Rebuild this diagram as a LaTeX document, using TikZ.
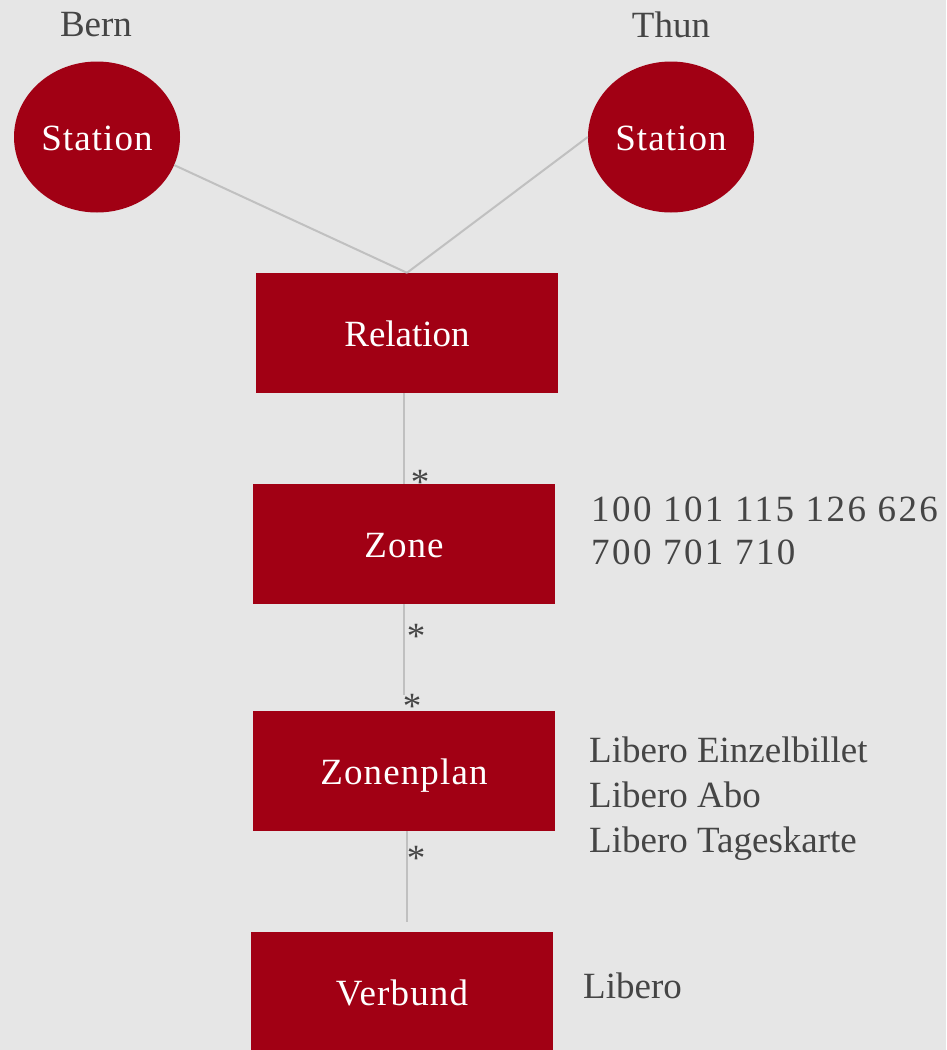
\documentclass[tikz,border=0pt]{standalone}
\usepackage{fontspec}
\setmainfont{Liberation Serif}
\newfontfamily\spacedfont[LetterSpace=6.5]{Liberation Serif}
\newfontfamily\widefont[LetterSpace=3]{Liberation Serif}
\usetikzlibrary{shapes.geometric}
\definecolor{bg}{HTML}{E6E6E6}
\definecolor{boxred}{HTML}{A10014}
\definecolor{txtgrey}{HTML}{454545}
\definecolor{linegrey}{HTML}{C0C0C0}
\begin{document}
\begin{tikzpicture}[x=1pt,y=-1pt,
  big/.style={font=\fontsize{37}{44}\selectfont},
  station/.style={ellipse,fill=boxred,minimum width=166pt,minimum height=151pt,inner sep=0pt,text=white,font=\fontsize{37}{44}\widefont,text height=27pt,text depth=0pt},
  entity/.style={rectangle,fill=boxred,minimum width=302pt,minimum height=120pt,inner sep=0pt,text=white,font=\fontsize{37}{44}\widefont,text height=27pt,text depth=0pt},
  lbl/.style={text=txtgrey,big,inner sep=0pt},
  info/.style={text=txtgrey,inner sep=0pt,anchor=west,align=left},
  conn/.style={draw=linegrey,line width=2pt},
  mult/.style={text=txtgrey,big,inner sep=0pt,anchor=base}
]
\fill[bg] (0,0) rectangle (946,1050);
\useasboundingbox (0,0) rectangle (946,1050);

\node[lbl] (bernlbl) at (96,25) {Bern};
\node[lbl] (thunlbl) at (671,25) {Thun};
\node[station] (bern) at (97,137) {Station};
\node[station] (thun) at (671,137) {Station};

\node[entity,font=\fontsize{37}{44}\selectfont] (rel) at (407,333) {Relation};
\node[entity] (zone) at (404,544) {Zone};
\node[entity] (zplan) at (404,771) {Zonenplan};
\node[entity] (verb) at (402,992) {Verbund};

\node[info,font=\fontsize{37}{43.5}\spacedfont] (zonelist) at (591,531) {100 101 115 126 626\\700 701 710};
\node[info,font=\fontsize{37}{45}\selectfont] (plans) at (589,799) {Libero Einzelbillet\\Libero Abo\\Libero Tageskarte};
\node[info,font=\fontsize{37}{44}\selectfont] (verbname) at (583,986) {Libero};

\coordinate (relbot) at (404,393);
\coordinate (zoneend) at (404,695);
\coordinate (zplantop) at (407,831);
\coordinate (verbend) at (407,922);

\draw[conn] (bern.-20) -- (rel.north);
\draw[conn] (thun.west) -- (rel.north);
\draw[conn] (relbot) -- (zone.north);
\draw[conn] (zone.south) -- (zoneend);
\draw[conn] (zplantop) -- (verbend);

\node[mult] (m1) at (420,494) {*};
\node[mult] (m2) at (416,648) {*};
\node[mult] (m3) at (412,718) {*};
\node[mult] (m4) at (416,870) {*};
\end{tikzpicture}
\end{document}
